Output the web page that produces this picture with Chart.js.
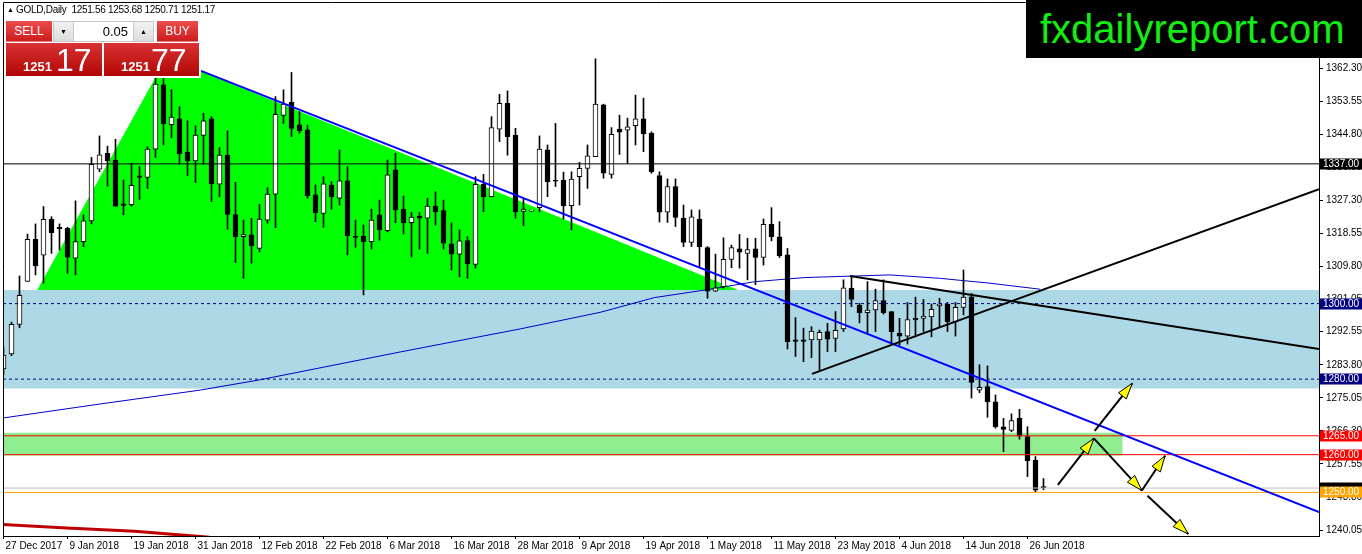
<!DOCTYPE html>
<html>
<head>
<meta charset="utf-8">
<script src="https://cdn.jsdelivr.net/npm/chart.js@4.4.1/dist/chart.umd.min.js"></script>
<style>
html,body{margin:0;padding:0;background:#fff;}
#wrap{position:relative;width:1362px;height:554px;overflow:hidden;font-family:"Liberation Sans",Arial,sans-serif;}
#c{position:absolute;left:0;top:0;}
#hdr{position:absolute;left:7px;top:4px;font-size:10px;line-height:12px;color:#000;white-space:pre;letter-spacing:-0.3px;}
#hdr .tri{font-size:7px;position:relative;top:-1px;}
#panel{position:absolute;left:5px;top:19px;width:196px;height:59px;background:#fff;}
.rbtn{position:absolute;top:2px;height:21px;background:linear-gradient(#ec4c4c,#cc1a1a);color:#fff;font-size:12px;line-height:21px;text-align:center;box-shadow:inset 0 -1px 0 rgba(255,255,255,0.45);}
.big{position:absolute;top:24px;height:33px;background:linear-gradient(#d83232,#b20606);color:#fff;}
.big span{position:absolute;white-space:nowrap;}
.big .s{font-size:13px;font-weight:bold;line-height:13px;top:17px;}
.big .l{font-size:32px;line-height:32px;top:1px;}
#spin{position:absolute;left:48px;top:2px;width:99px;height:19px;border:1px solid #c8c8c8;background:#fff;}
#spin .b{position:absolute;top:0;width:19px;height:19px;background:linear-gradient(#f2f2f2,#dcdcdc);font-size:7px;line-height:19px;text-align:center;color:#000;}
#spin .v{position:absolute;left:20px;width:54px;top:0;height:19px;font-size:13px;line-height:19px;text-align:right;color:#000;}
#logo{position:absolute;left:1026px;top:0;width:336px;height:58px;background:#000;color:#12ee12;font-size:40px;line-height:58px;padding-left:14px;box-sizing:border-box;white-space:nowrap;}
</style>
</head>
<body>
<div id="wrap">
<canvas id="c" width="1362" height="554"></canvas>
<div id="hdr"><span class="tri">▲</span> GOLD,Daily  1251.56 1253.68 1250.71 1251.17</div>
<div id="panel">
  <div class="rbtn" style="left:1px;width:46px;">SELL</div>
  <div id="spin">
    <div class="b" style="left:0;border-right:1px solid #c8c8c8;">▼</div>
    <div class="v">0.05</div>
    <div class="b" style="left:79px;border-left:1px solid #c8c8c8;">▲</div>
  </div>
  <div class="rbtn" style="left:152px;width:41px;">BUY</div>
  <div class="big" style="left:1px;width:96px;"><span class="s" style="left:17px;">1251</span><span class="l" style="left:50px;">17</span></div>
  <div class="big" style="left:99px;width:95px;"><span class="s" style="left:17px;">1251</span><span class="l" style="left:47px;">77</span></div>
</div>
<div id="logo">fxdailyreport.com</div>
</div>
<script>
// ---------- DATA ----------
const dateLabels = ["27 Dec 2017","9 Jan 2018","19 Jan 2018","31 Jan 2018","12 Feb 2018","22 Feb 2018","6 Mar 2018","16 Mar 2018","28 Mar 2018","9 Apr 2018","19 Apr 2018","1 May 2018","11 May 2018","23 May 2018","4 Jun 2018","14 Jun 2018","26 Jun 2018"];
const dateTickIndex = [0,8,16,24,32,40,48,56,64,72,80,88,96,104,112,120,128];

const opens = [1282.7,1286.7,1294.5,1305.9,1317.0,1312.8,1322.3,1320.2,1319.9,1312.0,
1316.4,1321.9,1335.6,1339.8,1338.0,1326.4,1326.2,1333.8,1333.4,1340.9,
1357.9,1347.4,1348.9,1340.1,1337.8,1344.5,1348.9,1331.6,1339.3,1323.6,
1317.7,1318.2,1314.6,1322.1,1329.0,1349.8,1353.3,1347.3,1346.0,1328.8,
1323.9,1331.4,1327.9,1332.5,1317.9,1317.9,1316.4,1323.5,1319.3,1335.4,
1325.0,1321.4,1323.2,1322.6,1325.8,1324.6,1315.8,1313.1,1316.7,1310.4,
1331.6,1328.3,1346.2,1353.0,1344.6,1324.4,1324.5,1325.4,1340.7,1332.6,
1332.7,1325.9,1333.6,1335.8,1338.9,1352.6,1334.2,1346.2,1345.9,1347.1,
1348.9,1345.1,1333.9,1324.2,1331.0,1322.6,1316.2,1322.4,1314.8,1303.3,
1304.5,1311.7,1314.5,1313.3,1314.5,1312.2,1321.0,1317.7,1312.9,1290.4,
1290.4,1290.4,1290.4,1292.6,1290.8,1293.3,1304.1,1299.6,1297.6,1298.3,
1300.8,1297.9,1292.1,1291.4,1296.1,1296.1,1296.5,1299.4,1299.9,1295.2,
1299.0,1301.8,1277.1,1278.0,1274.0,1267.4,1266.4,1269.6,1264.8,1258.6,
1251.56];
const highs = [1288.5,1295.1,1307.3,1318.4,1321.1,1325.7,1323.0,1321.1,1320.2,1327.2,
1323.5,1338.7,1344.4,1341.7,1343.5,1332.7,1337.1,1336.3,1341.5,1359.9,
1359.7,1356.6,1352.1,1348.4,1347.1,1350.4,1349.5,1341.3,1345.7,1332.1,
1322.1,1322.6,1326.3,1330.7,1354.8,1356.6,1361.2,1350.8,1347.3,1331.4,
1333.6,1332.3,1340.7,1336.3,1322.1,1320.8,1325.0,1327.4,1338.0,1339.8,
1328.5,1324.1,1324.1,1327.9,1329.6,1327.4,1321.4,1319.5,1317.7,1333.6,
1334.2,1349.5,1355.4,1356.3,1346.4,1327.7,1324.6,1344.4,1342.0,1347.7,
1334.8,1334.9,1337.4,1342.0,1364.8,1352.8,1346.6,1349.9,1349.1,1355.2,
1354.4,1345.5,1334.9,1333.0,1333.0,1326.1,1324.8,1324.8,1315.1,1313.1,
1317.4,1315.5,1318.3,1317.3,1317.3,1322.4,1325.4,1321.7,1314.6,1296.3,
1293.5,1293.9,1293.0,1294.8,1297.9,1306.3,1307.1,1300.1,1305.8,1303.8,
1306.3,1297.9,1296.1,1300.3,1301.7,1301.1,1299.9,1301.4,1300.3,1300.3,
1308.9,1302.7,1283.8,1283.5,1275.8,1269.6,1270.8,1272.0,1267.4,1259.5,
1253.68];
const lows = [1281.1,1286.2,1293.6,1305.9,1307.6,1305.4,1313.3,1314.2,1308.0,1307.6,
1315.1,1321.1,1334.9,1331.1,1325.7,1323.5,1325.8,1327.6,1330.5,1338.7,
1342.0,1343.9,1336.9,1333.9,1332.1,1336.9,1327.0,1328.3,1319.7,1310.9,
1306.7,1310.7,1313.7,1321.3,1320.1,1347.7,1344.2,1345.1,1327.9,1321.7,
1320.2,1325.0,1326.1,1312.9,1314.9,1302.3,1314.4,1316.8,1319.0,1321.4,
1318.4,1312.3,1314.4,1313.3,1320.8,1314.4,1308.9,1307.1,1306.7,1309.4,
1324.3,1328.3,1342.9,1339.3,1322.6,1320.6,1324.4,1324.3,1328.3,1331.0,
1322.4,1319.5,1326.1,1330.5,1338.9,1333.2,1333.2,1339.5,1337.1,1342.0,
1340.2,1334.5,1321.6,1321.5,1320.4,1315.1,1315.1,1309.8,1301.4,1303.2,
1304.1,1309.5,1309.4,1306.3,1305.0,1310.2,1316.6,1312.2,1288.0,1286.0,
1284.6,1285.7,1282.4,1287.3,1287.3,1292.6,1299.2,1294.9,1292.2,1292.6,
1297.2,1289.6,1289.0,1289.3,1291.2,1292.6,1291.2,1293.9,1292.6,1291.4,
1297.0,1275.0,1276.4,1269.9,1267.0,1260.8,1266.1,1264.1,1254.2,1250.2,
1250.71];
const closes = [1286.4,1294.5,1302.2,1317.0,1310.0,1322.3,1318.8,1319.8,1312.3,1316.4,
1321.9,1336.9,1339.4,1337.8,1325.8,1326.0,1331.3,1333.4,1340.9,1358.1,
1347.6,1349.4,1339.7,1337.8,1344.6,1348.4,1331.7,1339.3,1323.6,1317.7,
1318.3,1315.3,1322.4,1329.0,1350.1,1352.8,1346.4,1345.7,1328.6,1324.1,
1331.7,1328.3,1332.5,1318.0,1317.5,1316.4,1322.1,1319.5,1334.1,1324.8,
1321.4,1322.9,1322.6,1325.8,1324.3,1316.0,1313.1,1316.6,1310.5,1331.6,
1328.3,1346.6,1353.0,1344.2,1324.3,1325.0,1324.5,1340.9,1332.3,1332.4,
1325.9,1333.0,1335.8,1339.1,1352.8,1334.5,1344.8,1345.4,1346.8,1348.9,
1345.0,1334.9,1324.2,1331.0,1322.8,1316.2,1323.0,1315.1,1303.3,1304.2,
1311.7,1314.8,1313.6,1314.3,1312.2,1321.0,1317.7,1312.7,1289.9,1290.0,
1290.0,1292.7,1292.4,1290.6,1292.9,1304.2,1301.1,1297.6,1298.3,1300.8,
1297.6,1292.6,1291.4,1295.8,1295.7,1296.7,1298.5,1299.9,1295.2,1299.0,
1301.7,1279.1,1277.8,1274.0,1267.4,1266.7,1269.0,1264.9,1258.4,1250.6,
1251.17];

// slow moving average (thin blue) read at sample bars
const maIndex  = [-0.1, 12, 24.6, 32, 49.6, 64.6, 74.6, 81.4, 87.7, 93.9, 100.2, 106.4, 110.8, 117, 123.3, 129.6];
const maValues = [1269.7,1273.4,1277.1,1279.8,1287.2,1293.3,1297.7,1301.6,1303.6,1305.8,1306.9,1307.3,1307.6,1306.7,1305.4,1303.8];
// red moving average (bottom left)
const ma2Index  = [-0.1, 7.9, 16.4, 25.4, 30];
const ma2Values = [1241.5,1240.6,1239.7,1238.2,1237.0];

// right axis tick labels
const yTickLabels = ["1362.30","1353.55","1344.80","1336.05","1327.30","1318.55","1309.80","1301.05","1292.55","1283.80","1275.05","1266.30","1257.55","1248.80","1240.05"];

// horizontal levels
const levelValues = [1337.00, 1300.00, 1280.00, 1265.00, 1260.00, 1251.17, 1250.00];
const levelLabels = ["1337.00","1300.00","1280.00","1265.00","1260.00","1251.17","1250.00"];

// zones (price ranges) and drawn objects in (bar index, price)
const blueZone = [1277.5, 1303.6];
const greenZone = [1259.8, 1265.8];
const greenZoneEnd = 139.9;
const triangleIdx = [4.22, 19.51, 24.94, 91.81];
const trianglePx  = [1303.6, 1361.85, 1361.3, 1303.6];
const blueTrend  = [[24.69, 1361.6], [164.44, 1244.8]];
const blackDown  = [[105.8, 1307.3], [164.44, 1288.0]];
const blackUp    = [[101.06, 1281.4], [164.44, 1330.3]];
const arrows = [
  [131.8, 1252.0, 136.3, 1264.3],
  [136.4, 1266.3, 141.1, 1278.9],
  [136.3, 1264.3, 142.3, 1250.5],
  [142.3, 1250.5, 145.2, 1259.7],
  [143.0, 1249.1, 148.1, 1239.0]
];

// ---------- CHART ----------
const X_MIN = -0.0625, X_MAX = 164.44;
const Y_MIN = 1238.47, Y_MAX = 1379.85;
const FONT = {family: '"Liberation Sans", Arial, sans-serif', size: 10};

const idx = opens.map((_, i) => i);
const isUp = i => closes[i] >= opens[i];

function seg(points, color, width, order, dash) {
  return {type: 'line', data: points.map(p => ({x: p[0], y: p[1]})), borderColor: color, borderWidth: width,
          borderDash: dash || [], pointRadius: 0, fill: false, order: order, clip: 0, tension: 0};
}
function level(v, color, dash, order) {
  return seg([[X_MIN, v], [X_MAX, v]], color, 1, order, dash);
}

const datasets = [];
datasets.push({type: 'line', data: [{x: X_MIN, y: blueZone[1]}, {x: X_MAX, y: blueZone[1]}],
  borderColor: 'rgba(0,0,0,0)', borderWidth: 0, pointRadius: 0, backgroundColor: '#add8e6',
  fill: {value: blueZone[0]}, order: 100, clip: 0});
datasets.push({type: 'line', data: [{x: X_MIN, y: greenZone[1]}, {x: greenZoneEnd, y: greenZone[1]}],
  borderColor: 'rgba(0,0,0,0)', borderWidth: 0, pointRadius: 0, backgroundColor: '#90ee90',
  fill: {value: greenZone[0]}, order: 99, clip: 0});
datasets.push({type: 'line', data: triangleIdx.map((x, k) => ({x: x, y: trianglePx[k]})),
  borderColor: 'rgba(0,0,0,0)', borderWidth: 0, pointRadius: 0, backgroundColor: '#00ff00',
  fill: {value: trianglePx[0]}, order: 98, clip: 0, tension: 0});
datasets.push(seg(ma2Index.map((x, k) => [x, ma2Values[k]]), '#c00000', 3, 97));
datasets.push(seg(maIndex.map((x, k) => [x, maValues[k]]), '#0000cc', 1, 96));
datasets.push({type: 'bar', data: idx.map(i => ({x: i, y: [lows[i], highs[i]]})),
  backgroundColor: '#000', borderWidth: 0, barThickness: 1, grouped: false, order: 50, clip: 0});
datasets.push({type: 'bar', data: idx.map(i => ({x: i, y: [opens[i], closes[i]]})),
  backgroundColor: ctx => isUp(ctx.dataIndex) ? '#ffffff' : '#000000',
  borderColor: '#000', borderWidth: 1, borderSkipped: false, minBarLength: 1,
  barThickness: 5, grouped: false, order: 49, clip: 0});
datasets.push(level(levelValues[0], '#000000', [], 30));
datasets.push(level(levelValues[1], '#000080', [3, 3], 29));
datasets.push(level(levelValues[2], '#000080', [3, 3], 28));
datasets.push(level(levelValues[3], '#ff0000', [], 27));
datasets.push(level(levelValues[4], '#ff0000', [], 26));
datasets.push(level(levelValues[5], '#c0c0c0', [], 25));
datasets.push(level(levelValues[6], '#ffa500', [], 24));
datasets.push(seg(blueTrend, '#0000ff', 2, 12));
datasets.push(seg(blackDown, '#000000', 2, 11));
datasets.push(seg(blackUp, '#000000', 2, 10));
arrows.forEach((a, k) => datasets.push(seg([[a[0], a[1]], [a[2], a[3]]], '#000000', 2, 5 - k * 0.1)));

const levelBoxColors = ['#000000', '#000080', '#000080', '#ff0000', '#ff0000', '#000000', '#ffa500'];
const levelTextColors = ['#ffffff', '#ffffff', '#ffffff', '#ffffff', '#ffffff', '#000000', '#ffffff'];

const overlayPlugin = {
  id: 'overlay',
  afterDatasetsDraw(chart) {
    const {ctx, scales: {x, y}} = chart;
    ctx.save();
    arrows.forEach(a => {
      const sx = x.getPixelForValue(a[0]), sy = y.getPixelForValue(a[1]);
      const tx = x.getPixelForValue(a[2]), ty = y.getPixelForValue(a[3]);
      const dx = tx - sx, dy = ty - sy, len = Math.hypot(dx, dy);
      const ux = dx / len, uy = dy / len, L = 16, W = 5;
      const bx = tx - ux * L, by = ty - uy * L;
      ctx.beginPath();
      ctx.moveTo(tx, ty);
      ctx.lineTo(bx - uy * W, by + ux * W);
      ctx.lineTo(bx + uy * W, by - ux * W);
      ctx.closePath();
      ctx.fillStyle = '#ffff00'; ctx.fill();
      ctx.strokeStyle = '#000'; ctx.lineWidth = 1; ctx.stroke();
    });
    ctx.restore();
  },
  afterDraw(chart) {
    const {ctx, chartArea, scales: {y}} = chart;
    ctx.save();
    ctx.strokeStyle = '#000'; ctx.lineWidth = 1;
    ctx.beginPath();
    ctx.moveTo(chartArea.left + 0.5, chartArea.bottom);
    ctx.lineTo(chartArea.left + 0.5, chartArea.top + 0.5);
    ctx.lineTo(chartArea.right, chartArea.top + 0.5);
    ctx.stroke();
    ctx.font = '10px "Liberation Sans", Arial, sans-serif';
    ctx.textBaseline = 'middle';
    ctx.textAlign = 'left';
    levelValues.forEach((v, k) => {
      const py = Math.round(y.getPixelForValue(v));
      ctx.fillStyle = levelBoxColors[k];
      ctx.fillRect(chartArea.right + 1, py - 5.5, 43, 11);
      ctx.fillStyle = levelTextColors[k];
      ctx.fillText(levelLabels[k], chartArea.right + 4, py + 0.5);
    });
    ctx.restore();
  }
};

new Chart(document.getElementById('c'), {
  type: 'bar',
  data: {datasets: datasets},
  plugins: [overlayPlugin],
  options: {
    responsive: false, animation: false, devicePixelRatio: 1,
    layout: {padding: {left: 3, top: 2, right: 0, bottom: 0}},
    plugins: {legend: {display: false}, tooltip: {enabled: false}, title: {display: false}},
    scales: {
      x: {
        type: 'linear', position: 'bottom', min: X_MIN, max: X_MAX, offset: false, bounds: 'data',
        grid: {drawOnChartArea: false, drawTicks: true, tickLength: 3, color: '#000', offset: false},
        border: {color: '#000', width: 1},
        ticks: {autoSkip: false, maxRotation: 0, minRotation: 0, align: 'start', labelOffset: 2, padding: 1,
                color: '#000', font: FONT, callback: (v, i) => dateLabels[i]},
        afterBuildTicks: s => { s.ticks = dateTickIndex.map(v => ({value: v})); },
        afterFit: s => { s.height = 18; s.paddingLeft = 0; s.paddingRight = 0; }
      },
      y: {
        type: 'linear', position: 'right', min: Y_MIN, max: Y_MAX, beginAtZero: false, bounds: 'data',
        grid: {drawOnChartArea: false, drawTicks: true, tickLength: 4, color: '#000'},
        border: {color: '#000', width: 1},
        ticks: {autoSkip: false, padding: 3, color: '#000', font: FONT, callback: (v, i) => yTickLabels[i]},
        afterBuildTicks: s => { s.ticks = yTickLabels.map(t => ({value: parseFloat(t)})); },
        afterFit: s => { s.width = 43; s.paddingTop = 0; s.paddingBottom = 0; }
      }
    }
  }
});
</script>
</body>
</html>
